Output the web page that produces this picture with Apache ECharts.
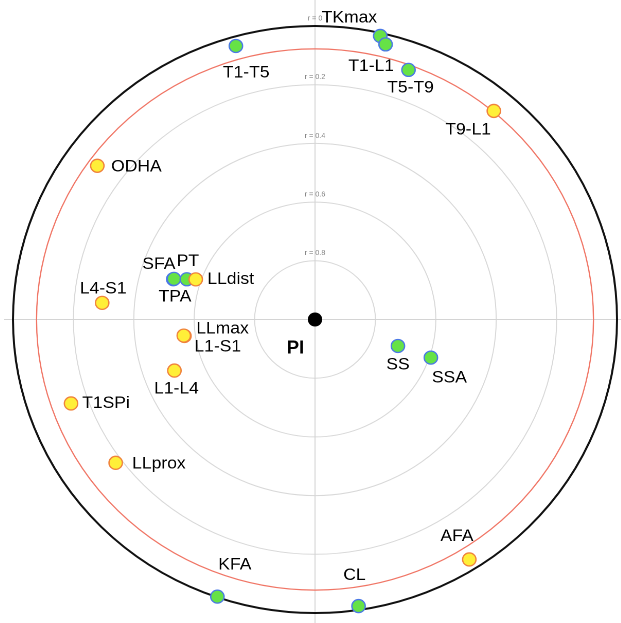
<!DOCTYPE html>
<html>
<head>
<meta charset="utf-8">
<script src="https://cdn.jsdelivr.net/npm/echarts@6/dist/echarts.min.js"></script>
<style>
  html, body { margin: 0; padding: 0; background: #fff; overflow: hidden; }
  #chart { width: 621px; height: 623px; transform: scaleX(1.029); transform-origin: 315px 0; }
</style>
</head>
<body>
<div id="chart"></div>
<script>
// green group (blue outline)
var greenNames = ['TKmax', 'T1-L1', 'T5-T9', 'T1-T5', 'SFA', 'TPA', 'PT', 'SS', 'SSA', 'KFA', 'CL'];
var greenR     = [0.010, 0.034, 0.095, 0.032, 0.511, 0.513, 0.554, 0.711, 0.595, 0.002, 0.013];
var greenAngle = [12.6, 14.0, 20.0, 344.3, 286.3, 286.5, 287.9, 108.2, 108.7, 198.9, 171.6];

// yellow group (orange outline)
var yellowNames = ['T9-L1', 'ODHA', 'LLdist', 'L4-S1', 'LLmax', 'L1-S1', 'L1-L4', 'T1SPi', 'LLprox', 'AFA'];
var yellowR     = [0.075, 0.109, 0.582, 0.293, 0.564, 0.562, 0.503, 0.143, 0.179, 0.036];
var yellowAngle = [39.8, 306.0, 289.1, 274.6, 262.6, 262.8, 249.5, 250.5, 233.5, 148.0];

// radius ticks, red threshold ring
var rTicks = [0, 0.2, 0.4, 0.6, 0.8, 1];
var threshold = 0.078;

// label placement (offset from the point, px)
var labelAt = {
  'TKmax': [-30, -18], 'T1-L1': [-14, 22], 'T5-T9': [2, 18], 'T1-T5': [10, 27],
  'SFA': [-14, -15], 'TPA': [1, 18], 'PT': [1, -18], 'SS': [0, 19], 'SSA': [18, 20],
  'KFA': [17, -32], 'CL': [-4, -31], 'T9-L1': [-25, 19], 'ODHA': [38, 1],
  'LLdist': [34, 0], 'L4-S1': [1, -14], 'LLmax': [37, -7], 'L1-S1': [33, 11],
  'L1-L4': [2, 18], 'T1SPi': [34, 0], 'LLprox': [42, 1], 'AFA': [-12, -23], 'PI': [-19, 29]
};

var R = 293.5, C = [315, 319.5];

function build(names, rs, angles) {
  var out = [];
  for (var i = 0; i < names.length; i++) {
    out.push({
      name: names[i],
      value: [rs[i], angles[i]],
      label: { offset: labelAt[names[i]] }
    });
  }
  return out;
}

var labelBase = {
  show: true,
  position: 'inside',
  formatter: '{b}',
  color: '#000',
  fontSize: 17,
  fontFamily: 'Liberation Sans, Arial, sans-serif',
  align: 'center',
  verticalAlign: 'middle',
  textBorderWidth: 0
};

function hiddenAngle(idx, start, interval) {
  return {
    polarIndex: idx, type: 'value', min: 0, max: 360, startAngle: start, interval: interval,
    axisLine: { show: false }, axisTick: { show: false }, axisLabel: { show: false },
    splitLine: { show: true, lineStyle: { color: '#d4d4d4', width: 1 } }
  };
}
function hiddenRadius(idx) {
  return { polarIndex: idx, type: 'value', min: 0, max: 1, show: false };
}

var chart = echarts.init(document.getElementById('chart'), null, { devicePixelRatio: 2 });
chart.setOption({
  animation: false,
  polar: [
    { center: C, radius: R },
    { center: C, radius: 322 },
    { center: C, radius: 302 },
    { center: C, radius: R * (1 - threshold) }
  ],
  angleAxis: [
    {
      polarIndex: 0, type: 'value', min: 0, max: 360, startAngle: 90, clockwise: true,
      axisLine: { show: true, lineStyle: { color: '#111', width: 2 } },
      axisTick: { show: false }, axisLabel: { show: false }, splitLine: { show: false }
    },
    hiddenAngle(1, 90, 180),
    hiddenAngle(2, 0, 180),
    {
      polarIndex: 3, type: 'value', min: 0, max: 360, startAngle: 90,
      axisLine: { show: true, lineStyle: { color: '#f07565', width: 1.2 } },
      axisTick: { show: false }, axisLabel: { show: false }, splitLine: { show: false }
    }
  ],
  radiusAxis: [
    {
      polarIndex: 0, type: 'value', min: 0, max: 1, interval: 0.2, inverse: true,
      axisLine: { show: false }, axisTick: { show: false },
      splitLine: { show: true, lineStyle: { color: '#d8d8d8', width: 1 } },
      axisLabel: {
        show: true, margin: 0, align: 'center', verticalAlign: 'bottom',
        padding: [0, 0, 4, 0], fontSize: 7, color: '#888',
        fontFamily: 'Liberation Sans, Arial, sans-serif',
        formatter: function (v) { return v >= 1 ? '' : 'r = ' + (+v.toFixed(1)); }
      }
    },
    hiddenRadius(1), hiddenRadius(2), hiddenRadius(3)
  ],
  series: [
    {
      type: 'scatter', coordinateSystem: 'polar', polarIndex: 0,
      symbolSize: 13,
      itemStyle: { color: '#66e246', borderColor: '#4a78e6', borderWidth: 1.3, opacity: 1 },
      label: labelBase,
      data: build(greenNames, greenR, greenAngle)
    },
    {
      type: 'scatter', coordinateSystem: 'polar', polarIndex: 0,
      symbolSize: 13,
      itemStyle: { color: '#ffef38', borderColor: '#f0823c', borderWidth: 1.3, opacity: 1 },
      label: labelBase,
      data: build(yellowNames, yellowR, yellowAngle)
    },
    {
      type: 'scatter', coordinateSystem: 'polar', polarIndex: 0,
      symbolSize: 14,
      itemStyle: { color: '#000', opacity: 1 },
      label: {
        show: true, position: 'inside', formatter: '{b}', color: '#000',
        fontSize: 18, fontWeight: 'bold', fontFamily: 'Liberation Sans, Arial, sans-serif',
        offset: labelAt['PI'], textBorderWidth: 0
      },
      data: [{ name: 'PI', value: [1, 0] }]
    }
  ]
});
</script>
</body>
</html>
